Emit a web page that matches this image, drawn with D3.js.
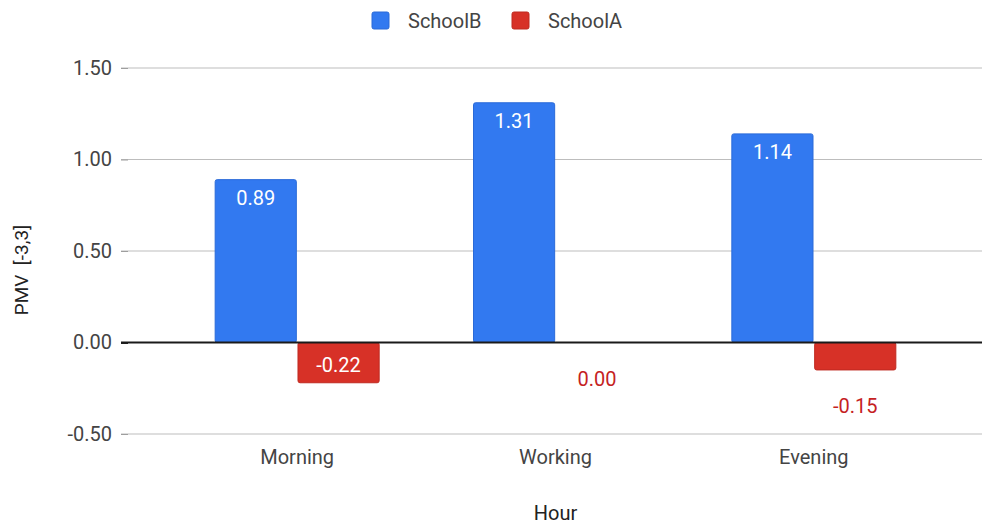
<!DOCTYPE html>
<html>
<head>
<meta charset="utf-8">
<script src="https://cdn.jsdelivr.net/npm/d3@7"></script>
<style>
  html, body { margin: 0; padding: 0; background: #fff; }
  text { font-family: Roboto, "Noto Sans", sans-serif; }
</style>
</head>
<body>
<svg id="chart" width="982" height="527"></svg>
<script>
// Chart data
const categories = ["Morning", "Working", "Evening"];
const seriesNames = ["SchoolB", "SchoolA"];
const schoolB = [0.89, 1.31, 1.14];
const schoolA = [-0.22, 0.00, -0.15];
const yTicks = [-0.5, 0, 0.5, 1.0, 1.5];
const colors = { SchoolB: "#3279f0", SchoolA: "#d73127" };
const strokes = { SchoolB: "#2a6ad8", SchoolA: "#bf2a20" };

// Two decimals with a plain hyphen for negatives
const fmt = v => d3.format(".2f")(v).replace("\u2212", "-");

const svg = d3.select("#chart");
const gridLeft = 121, gridRight = 982;

const y = d3.scaleLinear().domain([-0.5, 1.5]).range([434, 68]);
const x0 = d3.scaleBand().domain(categories).range([168, 943]).paddingInner(0).paddingOuter(0);
const x1 = d3.scaleBand().domain(seriesNames).range([0, 164]).paddingInner(0.02);
const groupOffset = (x0.bandwidth() - 164) / 2;

// Gridlines
svg.append("g").selectAll("line").data(yTicks.filter(d => d !== 0)).join("line")
  .attr("x1", gridLeft).attr("x2", gridRight)
  .attr("y1", d => y(d)).attr("y2", d => y(d))
  .attr("stroke", "#bdbdbd").attr("stroke-width", 1);

// Tick marks and labels
const yAxis = d3.axisLeft(y).tickValues(yTicks).tickFormat(fmt).tickSize(7).tickPadding(9);
const gy = svg.append("g").attr("transform", `translate(${gridLeft + 7},0)`).call(yAxis);
gy.select(".domain").remove();
gy.selectAll(".tick line").attr("stroke", d => d === 0 ? "#222" : "#9e9e9e").attr("stroke-width", d => d === 0 ? 2 : 1);
gy.selectAll(".tick text").attr("fill", "#444").attr("font-size", 20).attr("font-family", "Roboto, sans-serif");

// Bars
const rows = categories.map((c, i) => [
  { cat: c, key: "SchoolB", v: schoolB[i] },
  { cat: c, key: "SchoolA", v: schoolA[i] }
]).flat();

const barX = d => x0(d.cat) + groupOffset + x1(d.key);
svg.append("g").selectAll("rect").data(rows.filter(d => d.v !== 0)).join("rect")
  .attr("x", barX)
  .attr("y", d => Math.min(y(d.v), y(0)))
  .attr("width", x1.bandwidth())
  .attr("height", d => Math.abs(y(d.v) - y(0)))
  .attr("rx", 2)
  .attr("fill", d => colors[d.key])
  .attr("stroke", d => strokes[d.key])
  .attr("stroke-width", 1);

// Zero baseline
svg.append("line").attr("x1", gridLeft).attr("x2", gridRight)
  .attr("y1", y(0)).attr("y2", y(0)).attr("stroke", "#1a1a1a").attr("stroke-width", 2);

// Value labels: inside when the bar is tall enough, otherwise below it
const fits = d => Math.abs(y(d.v) - y(0)) > 30;
svg.append("g").selectAll("text").data(rows).join("text")
  .attr("x", d => barX(d) + x1.bandwidth() / 2)
  .attr("y", d => {
    if (d.v > 0) return y(d.v) + 25;
    if (fits(d)) return y(0) + 29;
    return y(d.v) + 43;
  })
  .attr("text-anchor", "middle")
  .attr("font-size", 20)
  .attr("fill", d => (d.v > 0 || fits(d)) ? "#ffffff" : "#c5221f")
  .text(d => fmt(d.v));

// Category labels
svg.append("g").selectAll("text").data(categories).join("text")
  .attr("x", d => x0(d) + x0.bandwidth() / 2)
  .attr("y", 464)
  .attr("text-anchor", "middle")
  .attr("font-size", 20)
  .attr("fill", "#444")
  .text(d => d);

// Axis titles
svg.append("text").attr("x", (x0.range()[0] + x0.range()[1]) / 2).attr("y", 520)
  .attr("text-anchor", "middle").attr("font-size", 20).attr("fill", "#222").text("Hour");
svg.append("text").attr("transform", "translate(28,270) rotate(-90)")
  .attr("text-anchor", "middle").attr("font-size", 19).attr("fill", "#222")
  .attr("xml:space", "preserve").text("PMV  [-3,3]");

// Legend
const legend = svg.append("g");
const legendItems = [{ key: "SchoolB", x: 372 }, { key: "SchoolA", x: 512 }];
legendItems.forEach(it => {
  legend.append("rect").attr("x", it.x).attr("y", 12).attr("width", 17).attr("height", 17)
    .attr("rx", 2).attr("fill", colors[it.key]).attr("stroke", strokes[it.key]);
  legend.append("text").attr("x", it.x + 36).attr("y", 28).attr("font-size", 20)
    .attr("fill", "#444").text(it.key);
});
</script>
</body>
</html>
